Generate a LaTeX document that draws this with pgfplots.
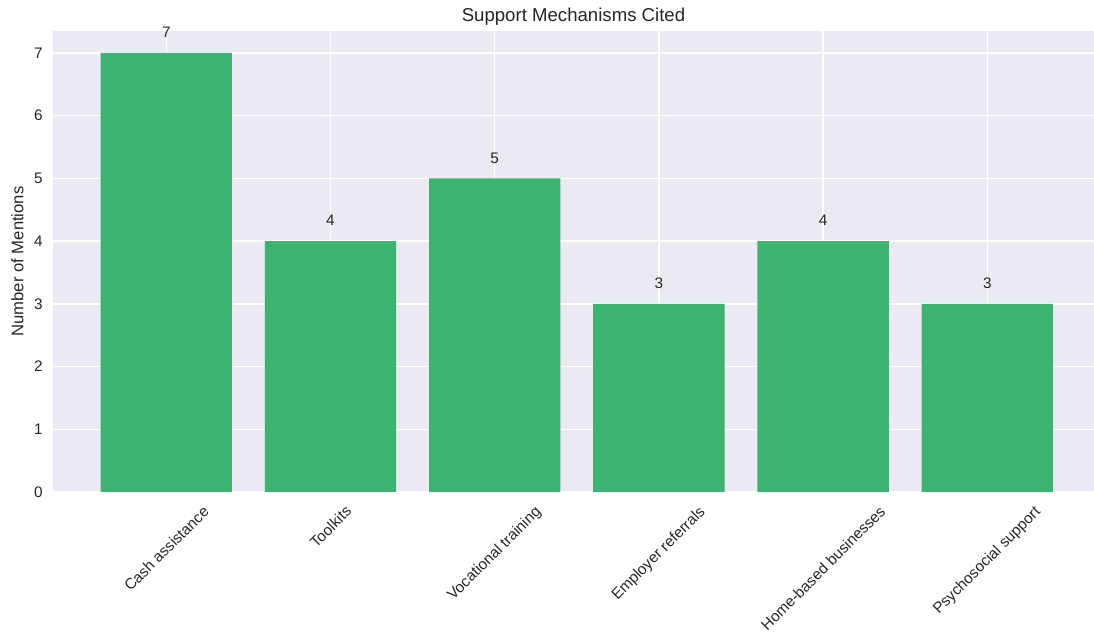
\documentclass[border=0pt]{standalone}
\usepackage{fontspec}
\setmainfont{Liberation Sans}
\usepackage{graphicx}
\usepackage{pgfplots}
\pgfplotsset{compat=1.18}
\definecolor{bgc}{HTML}{EAEAF2}
\definecolor{barc}{HTML}{3CB371}
\definecolor{txt}{HTML}{262626}
% 1 px of the reference = 0.72pt
\begin{document}
\begin{tikzpicture}
\begin{axis}[
  scale only axis, width=749.5pt, height=331.9pt,
  xmin=-0.69, xmax=5.65, ymin=0, ymax=7.35,
  clip=false,
  axis background/.style={fill=bgc},
  axis line style={draw=none},
  major tick length=0pt,
  grid=major, major grid style={white, line width=1pt},
  xtick={0,...,5}, ytick={0,...,7},
  xticklabels={\rotatebox{45}{Cash assistance},\rotatebox{45}{Toolkits},
    \rotatebox{45}{Vocational training},\rotatebox{45}{Employer referrals},
    \rotatebox{45}{Home-based businesses},\rotatebox{45}{Psychosocial support}},
  xticklabel style={anchor=north, inner sep=0pt, yshift=-9pt,
    font=\fontsize{11}{13}\selectfont, text=txt},
  yticklabel style={anchor=east, inner sep=0pt, xshift=-7.2pt,
    font=\fontsize{11}{13}\selectfont, text=txt},
  /pgf/number format/assume math mode=true,
  ylabel={Number of Mentions},
  every axis y label/.style={at={(axis description cs:0,0.5)}, rotate=90,
    anchor=center, yshift=25.6pt, font=\fontsize{12}{14}\selectfont, text=txt},
  title={Support Mechanisms Cited},
  every axis title/.style={at={(axis description cs:0.5,1)}, anchor=base,
    yshift=6.5pt, font=\fontsize{13.4}{16}\selectfont, text=txt},
  ybar, bar width=0.8, bar shift=0pt,
  nodes near coords,
  every node near coord/.append style={anchor=base, yshift=11pt, inner sep=0pt,
    font=\fontsize{11}{13}\selectfont, text=txt},
]
\addplot[fill=barc, draw=none] coordinates {(0,7) (1,4) (2,5) (3,3) (4,4) (5,3)};
\coordinate (bbl) at (rel axis cs:-0.0509,-0.3145);
\coordinate (bbr) at (rel axis cs:1,1.0672);
\end{axis}
\pgfresetboundingbox
\useasboundingbox (bbl) rectangle (bbr);
\end{tikzpicture}
\end{document}
